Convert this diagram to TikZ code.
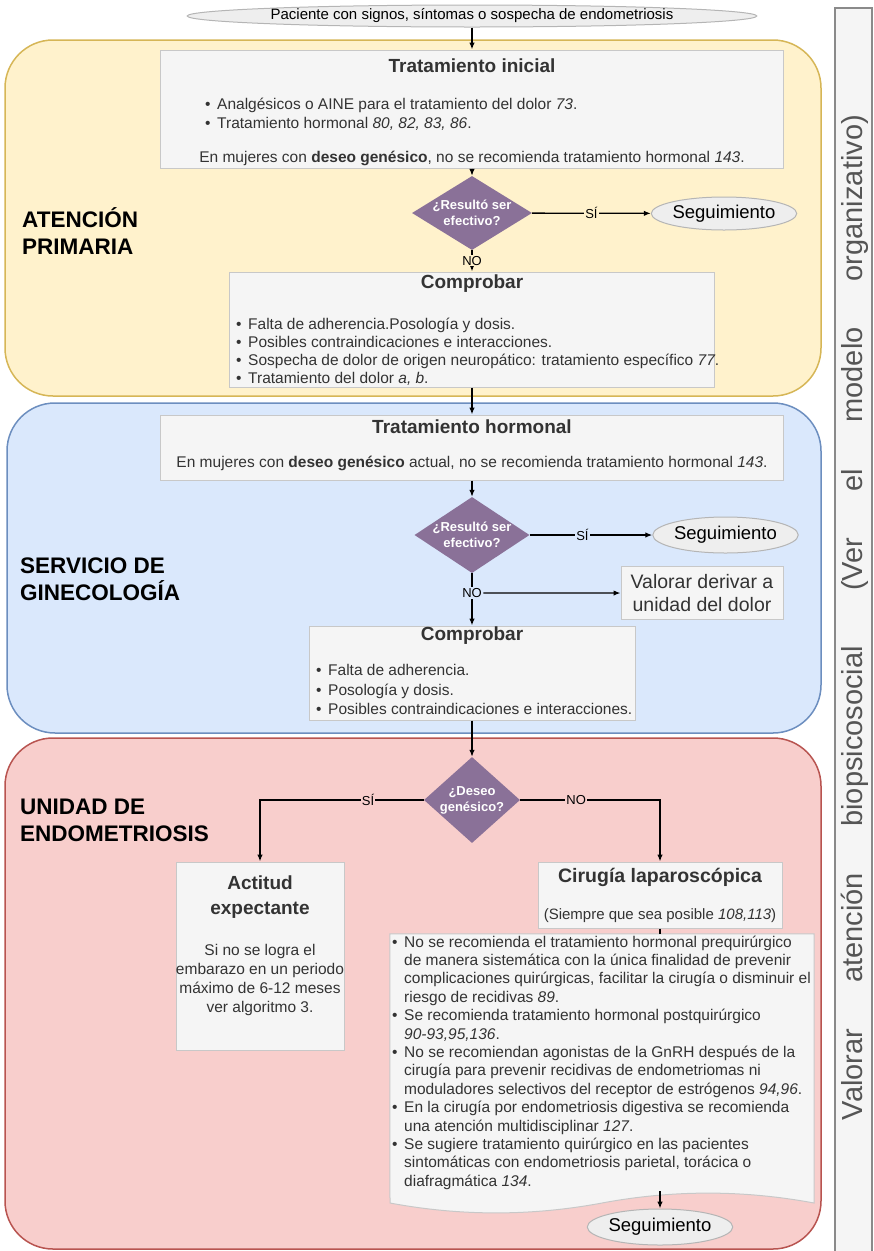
\documentclass[tikz,border=0pt]{standalone}
\usepackage{fontspec}
\setmainfont{Liberation Sans}
\usetikzlibrary{arrows.meta,shapes.geometric}
\definecolor{yfill}{HTML}{FFF2CC}
\definecolor{yline}{HTML}{D6B656}
\definecolor{bfill}{HTML}{DAE8FC}
\definecolor{bline}{HTML}{6C8EBF}
\definecolor{rfill}{HTML}{F8CECC}
\definecolor{rline}{HTML}{B85450}
\definecolor{gfill}{HTML}{F5F5F5}
\definecolor{gline}{HTML}{C8C8C8}
\definecolor{efill}{HTML}{EEEEEE}
\definecolor{eline}{HTML}{B5B5B5}
\definecolor{purp}{HTML}{8A7198}
\definecolor{txt}{HTML}{333333}
\definecolor{sidetxt}{HTML}{555555}
\definecolor{sideline}{HTML}{8A8A8A}
\newcommand\fsz[2]{\fontsize{#1}{#2}\selectfont}
\newcommand\bul{\makebox[12pt][l]{\textbullet}}
\newcommand\ind{\hspace*{12pt}}
\newcommand\wgap{\hspace{0pt plus 1fil}}
\newcommand\bgap{\hspace{0pt plus 1.2fil}}
\begin{document}
\begin{tikzpicture}[x=1pt,y=-1pt,
  region/.style={rectangle,rounded corners=48pt,line width=1.5pt,inner sep=0pt},
  gbox/.style={rectangle,fill=gfill,draw=gline,line width=1pt,inner sep=0pt},
  ell/.style={ellipse,fill=efill,draw=eline,line width=1pt,inner sep=0pt},
  dia/.style={diamond,fill=purp,draw=none,inner sep=0pt},
  diatext/.style={text=white,font=\bfseries\fsz{13}{16},align=center,inner sep=0pt},
  title/.style={text=txt,font=\bfseries\fsz{19}{25},align=center,inner sep=0pt},
  body/.style={text=txt,font=\fsz{15.5}{19},inner sep=0pt},
  area/.style={text=black,font=\bfseries\fsz{22.5}{27},align=left,inner sep=0pt,anchor=west},
  segtext/.style={font=\fsz{18.5}{22}},
  arr/.style={line width=1.3pt,-{Latex[length=7pt,width=5.5pt]}},
  conn/.style={line width=1.3pt},
  lab/.style={font=\fsz{13}{15},inner sep=1pt,text=black}
]
\useasboundingbox (0,0) rectangle (874,1251);

% regions
\node[region,fill=yfill,draw=yline,minimum width=816,minimum height=356] (rA) at (413,218) {};
\node[region,fill=bfill,draw=bline,minimum width=814,minimum height=330] (rB) at (414,568) {};
\node[region,fill=rfill,draw=rline,minimum width=816,minimum height=511] (rC) at (413,993.5) {};

% sidebar
\node[rectangle,fill=gfill,draw=sideline,line width=2pt,minimum width=37,minimum height=1260,inner sep=0pt] (side) at (853.5,638) {};
\node[rotate=90,text=sidetxt,font=\fsz{29}{32},inner sep=0pt] (sidet) at (855,617.5)
  {\makebox[1005pt][s]{Valorar\wgap atención\wgap biopsicosocial\bgap(Ver\wgap el\wgap modelo\wgap organizativo)}};

% area labels
\node[area] (aA) at (22,231) {ATENCIÓN\\PRIMARIA};
\node[area] (aB) at (20,579) {SERVICIO DE\\GINECOLOGÍA};
\node[area] (aC) at (20,820) {UNIDAD DE\\ENDOMETRIOSIS};

% start
\node[ell,minimum width=466,minimum height=22,font=\fsz{15}{18}] (start) at (472,16) {Paciente con signos, síntomas o sospecha de endometriosis};

% tratamiento inicial
\node[gbox,minimum width=623,minimum height=118] (tinit) at (472,109) {};
\node[title] (tinitT) at (472,66) {Tratamiento inicial};
\node[body,align=left,anchor=west,font=\fsz{15.5}{19}] (tinitL) at (205,114.5)
  {\bul Analgésicos o AINE para el tratamiento del dolor \textit{73}.\\
   \bul Tratamiento hormonal \textit{80, 82, 83, 86}.};
\node[body] (tinitN) at (472,158) {En mujeres con \textbf{deseo genésico}, no se recomienda tratamiento hormonal \textit{143}.};

% decision 1
\node[dia,minimum width=120,minimum height=74] (d1) at (472,213) {};
\node[diatext] (d1t) at (472,213) {¿Resultó ser\\efectivo?};
\node[ell,minimum width=118,minimum height=33,segtext] (seg1) at (724,213.5) {Seguimiento};

% comprobar 1
\node[gbox,minimum width=485,minimum height=115] (comp1) at (472,329.5) {};
\node[title] (comp1T) at (472,284) {Comprobar};
\node[body,align=left,anchor=west,font=\fsz{15.5}{18}] (comp1L) at (236,352)
  {\bul Falta de adherencia.Posología y dosis.\\
   \bul Posibles contraindicaciones e interacciones.\\
   \bul Sospecha de dolor de origen neuropático: tratamiento específico \textit{77}.\\
   \bul Tratamiento del dolor \textit{a, b}.};

% tratamiento hormonal
\node[gbox,minimum width=623,minimum height=65] (thorm) at (472,447.5) {};
\node[title] (thormT) at (472,427) {Tratamiento hormonal};
\node[body] (thormN) at (472,463) {En mujeres con \textbf{deseo genésico} actual, no se recomienda tratamiento hormonal \textit{143}.};

% decision 2
\node[dia,minimum width=115,minimum height=76] (d2) at (472,535) {};
\node[diatext] (d2t) at (472,535) {¿Resultó ser\\efectivo?};
\node[ell,minimum width=115,minimum height=36,segtext] (seg2) at (725.5,535) {Seguimiento};
\node[gbox,minimum width=162,minimum height=53,font=\fsz{19.5}{23},align=center,text=txt] (valorar) at (702,593) {Valorar derivar a\\unidad del dolor};

% comprobar 2
\node[gbox,minimum width=326,minimum height=94] (comp2) at (472,673) {};
\node[title] (comp2T) at (472,636) {Comprobar};
\node[body,align=left,anchor=west,font=\fsz{15.5}{19.5}] (comp2L) at (316,689.5)
  {\bul Falta de adherencia.\\
   \bul Posología y dosis.\\
   \bul Posibles contraindicaciones e interacciones.};

% decision 3
\node[dia,minimum width=96,minimum height=86] (d3) at (472,800) {};
\node[diatext] (d3t) at (472,800) {¿Deseo\\genésico?};

% actitud expectante
\node[gbox,minimum width=168,minimum height=188] (act) at (260,956) {};
\node[title] (actT) at (260,897.5) {Actitud\\expectante};
\node[body,align=center] (actB) at (260,979.5) {Si no se logra el\\embarazo en un periodo\\máximo de 6-12 meses\\ver algoritmo 3.};

% cirugia
\node[gbox,minimum width=244,minimum height=66] (cir) at (660,895) {};
\node[title,font=\bfseries\fsz{19.5}{24}] (cirT) at (660,877) {Cirugía laparoscópica};
\node[body,font=\fsz{15}{18}] (cirS) at (660,916) {(Siempre que sea posible \textit{108,113})};

% document shape
\node[rectangle,draw=none,minimum width=424,minimum height=257,inner sep=0pt] (doc) at (602,1062.5) {};
\filldraw[fill=gfill,draw=gline,line width=1pt]
  (doc.north west) -- (doc.north east) -- (814,1203)
  .. controls (743.3,1189.8) and (672.7,1189.8) .. (602,1203)
  .. controls (531.3,1216.2) and (460.7,1216.2) .. (390,1203) -- cycle;
\node[body,align=left,anchor=west,font=\fsz{15.5}{18.4}] (docL) at (392,1062.5)
  {\bul No se recomienda el tratamiento hormonal prequirúrgico\\
   \ind de manera sistemática con la única finalidad de prevenir\\
   \ind complicaciones quirúrgicas, facilitar la cirugía o disminuir el\\
   \ind riesgo de recidivas \textit{89}.\\
   \bul Se recomienda tratamiento hormonal postquirúrgico\\
   \ind \textit{90-93,95,136}.\\
   \bul No se recomiendan agonistas de la GnRH después de la\\
   \ind cirugía para prevenir recidivas de endometriomas ni\\
   \ind moduladores selectivos del receptor de estrógenos \textit{94,96}.\\
   \bul En la cirugía por endometriosis digestiva se recomienda\\
   \ind una atención multidisciplinar \textit{127}.\\
   \bul Se sugiere tratamiento quirúrgico en las pacientes\\
   \ind sintomáticas con endometriosis parietal, torácica o\\
   \ind diafragmática \textit{134}.};
\node[ell,minimum width=131,minimum height=36,segtext] (seg3) at (660,1227) {Seguimiento};

% connectors
\draw[arr] (start) -- (tinit);
\draw[arr] (tinit) -- (d1);
\draw[arr] (d1) -- node[lab,fill=yfill] (l1) {SÍ} (seg1);
\draw[arr] (d1) -- node[lab,fill=yfill] (l2) {NO} (comp1);
\draw[arr] (comp1) -- (thorm);
\draw[arr] (thorm) -- (d2);
\draw[arr] (d2) -- node[lab,fill=bfill,pos=0.43] (l3) {SÍ} (seg2);
\draw[arr] (d2) -- node[lab,fill=bfill,pos=0.38] (l4) {NO} (comp2);
\draw[arr] (l4) -- (valorar);
\draw[arr] (comp2) -- (d3);
\draw[arr] (d3.west) -| node[lab,fill=rfill,pos=0.17] (l5) {SÍ} (act.north);
\draw[arr] (d3.east) -| node[lab,fill=rfill,pos=0.2] (l6) {NO} (cir.north);
\draw[conn] (cir.south) -- (cir.south |- doc.north);
\draw[arr] (doc.south -| seg3) -- (seg3);
\end{tikzpicture}
\end{document}
